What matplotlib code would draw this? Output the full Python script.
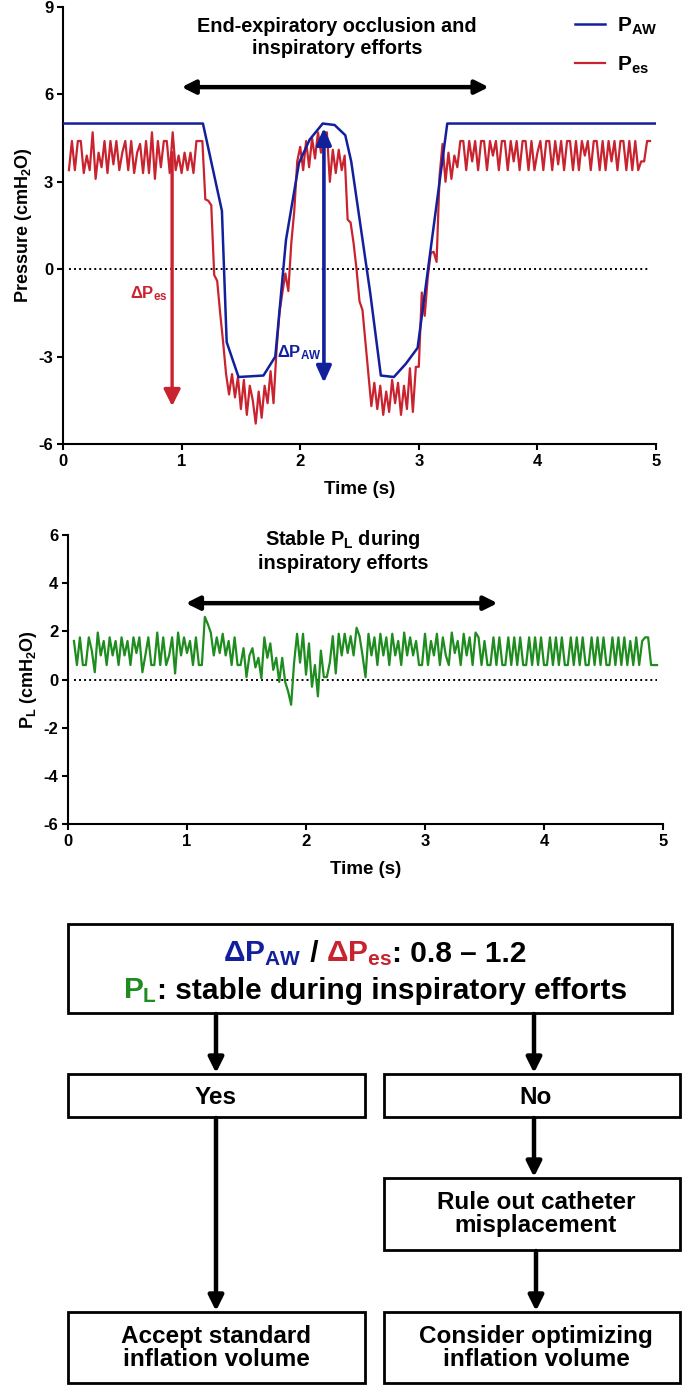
import numpy as np
import matplotlib
matplotlib.use("Agg")
import matplotlib.pyplot as plt
from matplotlib.patches import Rectangle
from matplotlib.offsetbox import TextArea, HPacker, AnnotationBbox

FONT = "Liberation Sans"
plt.rcParams['font.family'] = [FONT, 'DejaVu Sans']
plt.rcParams['font.weight'] = 'bold'
plt.rcParams['axes.labelweight'] = 'bold'
plt.rcParams['axes.unicode_minus'] = False
plt.rcParams['mathtext.fontset'] = 'custom'
plt.rcParams['mathtext.rm'] = FONT + ':bold'
plt.rcParams['mathtext.bf'] = FONT + ':bold'
plt.rcParams['mathtext.it'] = FONT + ':bold'

BLUE = '#12209c'
RED = '#c8232f'
GREEN = '#1e8c1e'

# ---------------- data ----------------
# airway pressure (cmH2O), piecewise trace
paw_time = [0, 1.18, 1.34, 1.38, 1.48, 1.69, 1.79, 1.88, 1.99, 2.08, 2.19, 2.29,
            2.38, 2.43, 2.59, 2.68, 2.79, 2.89, 2.99, 3.24, 5.0]
paw_value = [5.0, 5.0, 2.0, -2.5, -3.7, -3.65, -3.0, 1.0, 3.65, 4.45, 5.0, 4.95,
             4.6, 3.7, -0.8, -3.65, -3.7, -3.25, -2.7, 5.0, 5.0]

# sampled signals: first sample at 0.05 s, one sample every 0.025 s
sample_start = 0.05
sample_step = 0.025

pes_value = [
    3.4, 4.4, 3.4, 4.4, 4.4, 3.3, 3.9, 3.4, 4.7, 3.1,
    4.0, 3.5, 4.4, 3.3, 4.4, 3.6, 4.4, 3.4, 4.0, 4.4,
    3.4, 4.4, 3.3, 4.0, 4.3, 3.3, 4.4, 3.3, 4.7, 3.1,
    4.4, 3.5, 4.4, 4.4, 3.3, 4.7, 3.4, 3.9, 3.3, 4.0,
    3.4, 4.0, 3.3, 4.4, 4.4, 4.4, 2.4, 2.35, 2.2, -0.2,
    -0.4, -1.5, -2.5, -3.6, -4.3, -3.6, -4.4, -3.7, -4.8, -3.8,
    -5.0, -4.0, -4.5, -5.3, -4.2, -5.1, -4.0, -4.6, -3.5, -4.6,
    -2.8, -1.5, -0.8, -0.15, -0.75, 0.9, 2.0, 3.7, 4.2, 3.4,
    4.4, 3.5, 4.5, 3.8, 4.7, 4.0, 4.6, 4.7, 3.0, 4.1,
    3.3, 4.1, 3.4, 3.9, 1.7, 1.6, 0.9, 0.0, -1.1, -1.4,
    -2.5, -3.6, -4.7, -3.9, -4.8, -4.0, -5.0, -4.2, -4.9, -3.8,
    -4.6, -3.9, -5.0, -4.0, -4.8, -3.4, -4.9, -3.35, -3.35, -0.8,
    -1.6, -0.3, 0.55, 0.6, 0.25, 3.2, 4.3, 3.0, 4.0, 3.1,
    3.9, 3.5, 4.4, 4.4, 3.4, 4.4, 3.7, 4.4, 3.4, 4.4,
    4.4, 3.4, 4.4, 3.9, 4.4, 3.4, 4.4, 4.4, 3.4, 4.4,
    3.7, 4.4, 3.4, 4.4, 4.4, 3.4, 4.4, 3.4, 4.0, 4.4,
    3.4, 4.4, 4.4, 3.4, 4.4, 3.6, 4.4, 3.4, 4.4, 4.4,
    3.4, 4.4, 3.4, 4.4, 3.9, 4.4, 3.4, 4.4, 4.4, 3.4,
    4.4, 3.4, 4.4, 3.7, 4.4, 3.4, 4.4, 4.4, 3.4, 4.4,
    3.4, 4.4, 3.4, 3.7, 3.7, 4.4, 4.4,
]

pl_value = [
    1.6, 0.6, 1.75, 0.6, 0.6, 1.75, 1.2, 0.3, 1.95, 1.0,
    1.6, 0.6, 1.75, 1.0, 1.6, 0.6, 1.75, 1.0, 1.6, 0.6,
    1.75, 1.1, 1.75, 0.3, 1.0, 1.75, 0.6, 0.6, 1.95, 0.6,
    1.75, 0.6, 1.0, 1.75, 0.25, 1.95, 1.0, 1.75, 1.1, 1.6,
    0.6, 1.75, 0.6, 0.6, 2.6, 2.3, 1.95, 1.0, 1.75, 1.1,
    1.9, 1.0, 1.6, 0.6, 1.75, 0.6, 0.6, 1.3, 0.1, 1.0,
    1.3, 0.5, 0.9, 0.05, 1.75, 0.9, 1.5, 0.4, 0.9, -0.1,
    0.9, -0.1, -0.5, -1.05, 0.7, 1.9, 0.7, 1.9, 0.2, 1.5,
    -0.3, 0.6, -0.7, 1.2, 0.1, 0.1, 0.7, 1.8, 0.25, 1.9,
    1.0, 1.9, 1.1, 1.8, 1.0, 2.15, 1.8, 1.0, 0.1, 1.9,
    1.0, 1.75, 0.6, 1.9, 1.0, 1.75, 0.6, 1.9, 1.0, 1.6,
    0.6, 1.95, 1.0, 1.75, 1.0, 1.6, 0.6, 0.6, 1.9, 0.6,
    1.6, 1.0, 1.9, 0.6, 1.75, 1.0, 0.6, 1.95, 1.1, 1.6,
    0.6, 1.9, 1.0, 1.75, 0.6, 1.95, 1.75, 0.6, 1.6, 0.6,
    0.6, 1.75, 0.6, 1.75, 0.6, 0.6, 1.75, 0.6, 1.75, 0.6,
    1.75, 0.6, 0.6, 1.75, 0.6, 1.75, 0.6, 1.75, 0.6, 0.6,
    1.75, 0.6, 1.75, 0.6, 1.75, 0.6, 0.6, 1.75, 0.6, 1.75,
    0.6, 1.75, 0.6, 0.6, 1.75, 0.6, 1.75, 0.6, 1.75, 0.6,
    0.6, 1.75, 0.6, 1.75, 0.6, 1.75, 0.6, 1.6, 0.6, 1.75,
    0.6, 1.6, 1.75, 1.75, 0.6, 0.6, 0.6,
]

sample_time = np.round(sample_start + sample_step * np.arange(len(pes_value)), 3)

# delta arrows (time, from, to)
dpes_time, dpes_from, dpes_to = 0.92, 4.0, -4.7
dpaw_time, dpaw_low, dpaw_high = 2.20, -3.9, 4.85
occl_start, occl_end = 1.0, 3.59

top_yticks = [-6, -3, 0, 3, 6, 9]
bot_yticks = [-6, -4, -2, 0, 2, 4, 6]
xticks = [0, 1, 2, 3, 4, 5]

W, H = 685, 1386
fig = plt.figure(figsize=(W / 100, H / 100), dpi=100)

# ---------------- flowchart layer ----------------
fa = fig.add_axes([0, 0, 1, 1])
fa.set_xlim(0, W)
fa.set_ylim(H, 0)
fa.axis('off')
fa.patch.set_alpha(0)

def box(x0, y0, x1, y1):
    fa.add_patch(Rectangle((x0, y0), x1 - x0, y1 - y0, fill=False, lw=2.0,
                           edgecolor='black', zorder=3))

def arrow(x, y0, y1):
    fa.annotate('', xy=(x, y1), xytext=(x, y0),
                arrowprops=dict(arrowstyle='-|>,head_length=0.9,head_width=0.45',
                                lw=3.2, color='black', shrinkA=0, shrinkB=0),
                zorder=2)

box(68, 924, 672, 1013)
box(68, 1074, 365, 1117)
box(384, 1074, 680, 1117)
box(384, 1178, 680, 1250)
box(68, 1312, 365, 1383)
box(384, 1312, 680, 1383)

arrow(216, 1014, 1073)
arrow(534, 1014, 1073)
arrow(216, 1118, 1311)
arrow(534, 1118, 1177)
arrow(536, 1251, 1311)

FS_BOX = 17.5
fa.text(216, 1097, 'Yes', ha='center', va='center', fontsize=FS_BOX, fontweight='bold')
fa.text(536, 1097, 'No', ha='center', va='center', fontsize=FS_BOX, fontweight='bold')
fa.text(536, 1214, 'Rule out catheter\nmisplacement', ha='center', va='center',
        fontsize=FS_BOX, fontweight='bold', linespacing=1.05)
fa.text(216, 1348, 'Accept standard\ninflation volume', ha='center', va='center',
        fontsize=FS_BOX, fontweight='bold', linespacing=1.05)
fa.text(536, 1348, 'Consider optimizing\ninflation volume', ha='center', va='center',
        fontsize=FS_BOX, fontweight='bold', linespacing=1.05)

FS_TOP = 21.5
def tarea(s, c):
    return TextArea(s, textprops=dict(color=c, fontsize=FS_TOP, fontweight='bold'))

line1 = HPacker(children=[tarea('Δ$P_{AW}$', BLUE), tarea(' / ', 'black'),
                          tarea('Δ$P_{es}$', RED), tarea(': 0.8 – 1.2', 'black')],
                align='baseline', pad=0, sep=0)
line2 = HPacker(children=[tarea('$P_{L}$', GREEN),
                          tarea(': stable during inspiratory efforts', 'black')],
                align='baseline', pad=0, sep=0)
for pk, yy in [(line1, 954), (line2, 991)]:
    fa.add_artist(AnnotationBbox(pk, (375, yy), xycoords='data', frameon=False,
                                 box_alignment=(0.5, 0.5), pad=0))

# ---------------- axes styling ----------------
def style(ax):
    for s in ['top', 'right']:
        ax.spines[s].set_visible(False)
    for s in ['left', 'bottom']:
        ax.spines[s].set_linewidth(1.5)
    ax.tick_params(direction='out', length=4, width=1.5, labelsize=12, pad=3)
    for lab in ax.get_xticklabels() + ax.get_yticklabels():
        lab.set_fontweight('bold')

# ---------------- top chart ----------------
ax1 = fig.add_axes([63 / W, 1 - 444 / H, 593 / W, 437 / H])
ax1.set_xlim(0, 5)
ax1.set_ylim(-6, 9)
ax1.set_xticks(xticks)
ax1.set_yticks(top_yticks)
style(ax1)
ax1.axhline(0, xmin=0.01, xmax=0.99, color='black', ls=(0, (1, 1.6)), lw=1.4, zorder=1)
ax1.plot(sample_time, pes_value, color=RED, lw=1.6, label='P$_{es}$', zorder=3)
ax1.plot(paw_time, paw_value, color=BLUE, lw=1.8, label='P$_{AW}$', zorder=4)
h, l = ax1.get_legend_handles_labels()
leg = ax1.legend(h[::-1], l[::-1], loc='upper left', bbox_to_anchor=(0.85, 1.0),
                 frameon=False, fontsize=15, handlelength=1.4, handletextpad=0.6,
                 labelspacing=0.85, borderaxespad=0)
ax1.set_xlabel('Time (s)', fontsize=13.5, labelpad=9)
ax1.set_ylabel('Pressure (cmH$_2$O)', fontsize=13, labelpad=3)

ax1.annotate('', xy=(dpes_time, dpes_to), xytext=(dpes_time, dpes_from),
             arrowprops=dict(arrowstyle='-|>,head_length=1.0,head_width=0.5',
                             lw=2.4, color=RED, shrinkA=0, shrinkB=0), zorder=5)
ax1.annotate('', xy=(dpaw_time, dpaw_low), xytext=(dpaw_time, dpaw_high),
             arrowprops=dict(arrowstyle='<|-|>,head_length=1.0,head_width=0.45',
                             lw=2.6, color=BLUE, shrinkA=0, shrinkB=0), zorder=6)
ax1.annotate('', xy=(occl_start, 6.25), xytext=(occl_end, 6.25),
             arrowprops=dict(arrowstyle='<|-|>,head_length=0.8,head_width=0.4',
                             lw=3.2, color='black', shrinkA=0, shrinkB=0))
ax1.text(0.72, -0.85, 'Δ$P_{es}$', color=RED, fontsize=12, ha='center', va='center')
ax1.text(1.99, -2.85, 'Δ$P_{AW}$', color=BLUE, fontsize=12, ha='center', va='center')
ax1.text(2.31, 7.95, 'End-expiratory occlusion and\ninspiratory efforts', fontsize=14.3,
         ha='center', va='center', linespacing=1.2)

# ---------------- bottom chart ----------------
ax2 = fig.add_axes([68 / W, 1 - 824 / H, 595 / W, 289 / H])
ax2.set_xlim(0, 5)
ax2.set_ylim(-6, 6)
ax2.set_xticks(xticks)
ax2.set_yticks(bot_yticks)
style(ax2)
ax2.axhline(0, xmin=0.01, xmax=0.99, color='black', ls=(0, (1, 1.6)), lw=1.4, zorder=1)
ax2.plot(sample_time, pl_value, color=GREEN, lw=1.6, zorder=3)
ax2.annotate('', xy=(0.99, 3.17), xytext=(3.61, 3.17),
             arrowprops=dict(arrowstyle='<|-|>,head_length=0.8,head_width=0.4',
                             lw=3.2, color='black', shrinkA=0, shrinkB=0))
ax2.text(2.31, 5.35, 'Stable $P_{L}$ during\ninspiratory efforts', fontsize=14.3,
         ha='center', va='center', linespacing=1.2)
ax2.set_xlabel('Time (s)', fontsize=13.5, labelpad=9)
ax2.set_ylabel('$P_{L}$ (cmH$_2$O)', fontsize=13, labelpad=3)

fig.savefig('out.png', dpi=100)
